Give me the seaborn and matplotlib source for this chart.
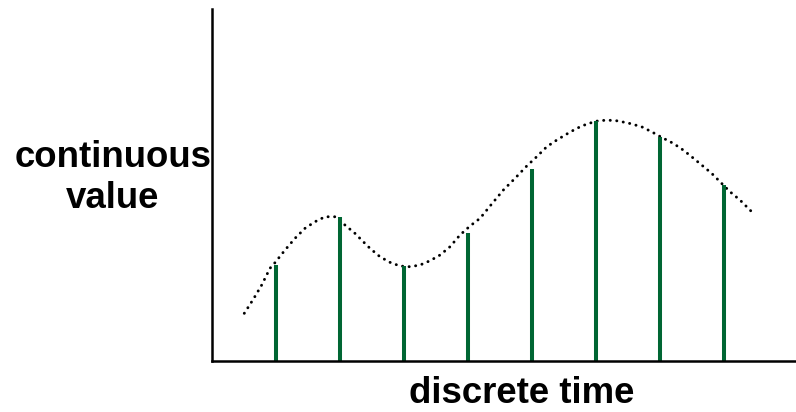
import matplotlib
matplotlib.use("Agg")
import matplotlib.pyplot as plt
import seaborn as sns
import pandas as pd

# Sample instants and the sampled values
sample_times = [1, 2, 3, 4, 5, 6, 7, 8]
sample_values = [2.73, 4.09, 2.70, 3.64, 5.45, 6.82, 6.36, 5.00]

# Underlying continuous signal
curve_times = [0.505, 0.645, 0.777, 0.906, 0.984, 1.141, 1.297, 1.453, 1.609,
               1.766, 1.922, 2.078, 2.234, 2.364, 2.469, 2.625, 2.781, 2.938,
               3.094, 3.25, 3.406, 3.563, 3.719, 3.875, 4.031, 4.188, 4.370,
               4.552, 4.734, 4.917, 5.073, 5.230, 5.386, 5.542, 5.698, 5.855,
               6.011, 6.167, 6.323, 6.500, 6.714, 6.870, 7.027, 7.208, 7.364,
               7.495, 7.652, 7.808, 7.938, 8.094, 8.25, 8.458]
curve_values = [1.355, 1.753, 2.159, 2.634, 2.793, 3.153, 3.486, 3.770, 3.957,
                4.099, 4.099, 3.864, 3.628, 3.389, 3.202, 2.963, 2.804, 2.699,
                2.679, 2.727, 2.849, 3.011, 3.247, 3.580, 3.835, 4.054, 4.460,
                4.858, 5.190, 5.540, 5.804, 6.088, 6.278, 6.449, 6.611, 6.733,
                6.818, 6.847, 6.827, 6.765, 6.656, 6.514, 6.355, 6.185, 5.994,
                5.804, 5.568, 5.332, 5.094, 4.810, 4.574, 4.196]

x_label = "discrete time"
y_label = "continuous\nvalue"

sns.set_style("white")
plt.rcParams["font.family"] = ["Liberation Sans", "DejaVu Sans"]

fig = plt.figure(figsize=(7.96, 4.12), dpi=100)
ax = fig.add_axes([0.2663, 0.1238, 0.7337, 0.854])

curve = pd.DataFrame({"t": curve_times, "v": curve_values})
sns.lineplot(data=curve, x="t", y="v", ax=ax, color="black", linewidth=2.1,
             linestyle=(0, (0.05, 2.2)), sort=False)
for line in ax.get_lines():
    line.set_dash_capstyle("round")
    line.set_solid_joinstyle("round")

ax.vlines(sample_times, 0, sample_values, colors="#006633", linewidth=2.9)

ax.set_xlim(0, 9.125)
ax.set_ylim(0, 10)
ax.set_xticks([])
ax.set_yticks([])
ax.set_xlabel("")
ax.set_ylabel("")
for side in ("top", "right"):
    ax.spines[side].set_visible(False)
for side in ("left", "bottom"):
    ax.spines[side].set_color("black")
    ax.spines[side].set_linewidth(1.8)

fig.text(0.655, 0.045, x_label, ha="center", va="center", fontsize=26.4,
         fontweight="bold", color="black")
fig.text(0.142, 0.567, y_label, ha="center", va="center", fontsize=26.4,
         fontweight="bold", color="black", linespacing=1.22)

fig.savefig("out.png", dpi=100)
